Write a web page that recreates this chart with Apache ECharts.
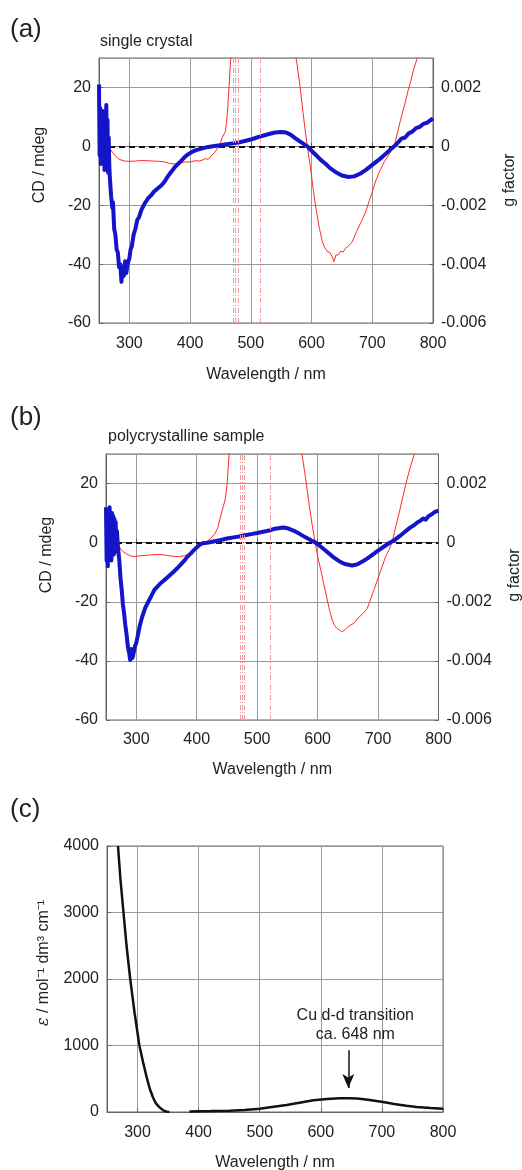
<!DOCTYPE html>
<html><head><meta charset="utf-8">
<script src="https://cdn.jsdelivr.net/npm/echarts@6/dist/echarts.min.js"></script>
<style>html,body{margin:0;padding:0;background:#fff}#c{width:522px;height:1170px}</style>
</head><body><div id="c"></div>
<script>
// ---------- data ----------
const xTickValues = [300, 400, 500, 600, 700, 800];

// (a) single crystal: CD / mdeg
const cdSingle = [[250,21],[251,-3],[252,13],[253,-6],[254,9],[255,-1],[256,12],[257,-4],[258,10],[259,-8],[260,11],[261,1],[262,14],[263,-3],[264,9],[265,-9],[266,3],[267,-7],[268,-11],[270,-17],[272,-21],[273,-19],[275,-28],[277,-30],[279,-35],[281,-36],[283,-41],[285,-40],[287,-46],[289,-41],[291,-44],[293,-39],[295,-43],[297,-40],[300,-38],[302,-35],[304,-34],[307,-30],[310,-28],[313,-25],[316,-24],[320,-21.5],[325,-19.5],[331,-17.6],[336,-16.6],[340,-15.5],[346,-14.4],[353,-13.2],[358,-12],[364,-10],[370,-8.4],[375,-7],[380,-6],[384,-5.2],[390,-3.9],[396,-2.8],[403,-1.9],[410,-1.3],[420,-0.7],[430,-0.2],[440,0.1],[450,0.4],[460,0.7],[470,1],[480,1.3],[490,1.8],[500,2.3],[510,3],[520,3.6],[530,4.2],[540,4.7],[550,4.9],[558,4.7],[566,3.9],[573,2.8],[580,1.8],[587,0.8],[593,0],[600,-1.5],[608,-3.1],[615,-4.6],[623,-5.9],[630,-7.3],[640,-8.8],[650,-9.9],[661,-10.4],[670,-10.2],[680,-9.3],[689,-8.1],[700,-6.3],[710,-4.7],[717,-3.5],[725,-2],[736,0],[742,1.2],[748,2.6],[754,3],[760,4.4],[766,5],[772,6.2],[778,6.6],[784,7.6],[790,8],[796,8.9],[800,9.5]];
// (a) single crystal: g factor
const gSingle = [[250,1.3e-4],[254,1.6e-4],[258,0.6e-4],[262,0.9e-4],[265,0],[268,-0.8e-4],[272,-2e-4],[276,-3e-4],[281,-4.1e-4],[286,-4.6e-4],[292,-5e-4],[300,-5.1e-4],[310,-5e-4],[320,-4.8e-4],[330,-4.9e-4],[340,-5e-4],[350,-5.1e-4],[358,-5.3e-4],[366,-5.8e-4],[375,-6e-4],[384,-5.6e-4],[392,-5.3e-4],[400,-5.3e-4],[408,-4.9e-4],[415,-5e-4],[420,-4.7e-4],[425,-4.2e-4],[430,-4.4e-4],[436,-3e-4],[440,-2.2e-4],[444,-1e-4],[447,0],[450,1.2e-4],[453,3e-4],[456,4.2e-4],[458,5e-4],[460,8e-4],[462,13e-4],[464,20e-4],[466,27e-4],[468,33e-4],[469,null],[572,33e-4],[576,28e-4],[580,22e-4],[584,15e-4],[588,8e-4],[593,0],[598,-7e-4],[603,-15e-4],[608,-22e-4],[613,-28e-4],[618,-32.5e-4],[622,-34.5e-4],[626,-35.8e-4],[630,-36e-4],[634,-37.5e-4],[637,-39.2e-4],[640,-37e-4],[644,-36.8e-4],[648,-35.6e-4],[652,-35.9e-4],[656,-34.6e-4],[661,-33.8e-4],[667,-32.4e-4],[674,-29e-4],[682,-25.5e-4],[689,-22.3e-4],[695,-18.5e-4],[700,-15.5e-4],[705,-12.1e-4],[712,-8.5e-4],[720,-5.2e-4],[727,-3e-4],[732,-1e-4],[736,0],[742,5e-4],[746,8.5e-4],[750,11.6e-4],[755,15.5e-4],[759,19e-4],[763,21.8e-4],[768,26e-4],[774,30e-4],[778,34e-4]];
const gSpikesSingle = [471, 474, 479, 515];

// (b) polycrystalline sample: CD / mdeg
const cdPoly = [[250,12],[251,-6],[252,10],[253,-8],[254,11],[255,0],[256,12],[257,-3],[258,9],[259,-6],[260,10],[261,2],[262,9],[263,-4],[264,8],[265,-2],[266,7],[267,-3],[268,4],[270,-2],[272,-6],[274,-12],[276,-16],[278,-21],[280,-24],[282,-28],[284,-31],[286,-35],[288,-37],[290,-39.7],[292,-36],[294,-39],[296,-37],[298,-35],[300,-34],[303,-31],[306,-28],[310,-25],[315,-22],[320,-20],[325,-18],[330,-16],[339,-14],[350,-12],[361,-10],[370,-8.2],[380,-6],[384,-4.9],[390,-3.7],[395,-2.6],[400,-1.6],[405,-0.7],[410,-0.2],[417,0],[430,0.5],[440,0.9],[450,1.4],[461,1.8],[470,2.1],[480,2.5],[490,2.9],[500,3.3],[510,3.7],[520,4.1],[527,4.6],[535,4.9],[543,5.1],[550,4.9],[560,4.1],[571,2.9],[580,1.8],[590,0.7],[596,0.1],[605,-1.3],[615,-3],[626,-4.9],[635,-6.2],[645,-7.2],[657,-7.7],[665,-7.4],[675,-6.3],[682,-5.4],[690,-4.2],[700,-2.7],[710,-1.3],[718,-0.2],[726,0.7],[735,2.1],[745,3.8],[753,5.1],[760,6],[766,7],[770,7.4],[775,8.2],[779,7.8],[783,8.9],[790,9.8],[795,10.5],[800,10.8]];
// (b) polycrystalline sample: g factor
const gPoly = [[250,1.3e-4],[255,1e-4],[260,1.2e-4],[265,0.5e-4],[268,0],[272,-1.5e-4],[278,-3e-4],[284,-3.8e-4],[290,-4.4e-4],[295,-4.7e-4],[305,-4.5e-4],[315,-4.3e-4],[325,-4.1e-4],[339,-4e-4],[350,-4.3e-4],[360,-4.6e-4],[372,-4.7e-4],[380,-4.4e-4],[388,-3.7e-4],[395,-2.7e-4],[403,-1.5e-4],[411,-0.4e-4],[418,0.6e-4],[424,1.6e-4],[430,3e-4],[435,5e-4],[439,8.5e-4],[443,11.5e-4],[447,14.5e-4],[450,19e-4],[452,25e-4],[454,31e-4],[455,null],[572,33e-4],[580,22e-4],[586,13e-4],[591,6e-4],[596,0],[600,-4.5e-4],[605,-9e-4],[610,-13.8e-4],[615,-18.5e-4],[620,-23e-4],[624,-26e-4],[628,-28e-4],[632,-29e-4],[636,-29.5e-4],[640,-30.2e-4],[645,-29.5e-4],[650,-28.5e-4],[655,-27.8e-4],[660,-27.3e-4],[667,-25.5e-4],[675,-24e-4],[682,-22.3e-4],[688,-19e-4],[694,-15.5e-4],[700,-12e-4],[706,-8.5e-4],[712,-5e-4],[718,-2.5e-4],[723,0],[730,6e-4],[736,11e-4],[742,16.4e-4],[748,21.5e-4],[754,26e-4],[760,30e-4],[764,33e-4]];
const gSpikesPoly = [472, 475, 479, 521];

// (c) absorption: epsilon / mol-1 dm3 cm-1
const epsilon = [[268,4000],[272,3500],[277,3000],[282,2500],[288,2000],[295,1500],[303,1000],[309,750],[315,520],[320,350],[325,225],[330,130],[336,70],[342,25],[348,5],[352,0],[368,null],[385,8],[400,12],[420,14],[450,20],[475,30],[500,50],[520,75],[544,105],[565,140],[588,176],[610,196],[630,205],[645,207],[660,202],[680,182],[702,150],[720,120],[740,95],[757,75],[780,60],[800,50]];
const ddArrow = {x: 645, from: 930, to: 360, text: 'Cu d-d transition\nca. 648 nm'};

// ---------- chart ----------
const FONT = '"Liberation Sans", Arial, sans-serif';
const TXT = '#222';
const GRIDC = '#9a9a9a';
const BORDER = '#666';
const RED = '#ff2a2a';
const SPIKE = '#f59a9a';
const BLUE = '#1414c8';
const chart = echarts.init(document.getElementById('c'), null, {renderer: 'canvas'});

function xAxisDef(gi, gap, margin) {
  return {
    type: 'value', gridIndex: gi, min: 250, max: 800,
    name: 'Wavelength / nm', nameLocation: 'middle', nameGap: gap,
    nameTextStyle: {fontSize: 16, color: TXT, fontFamily: FONT},
    axisLine: {show: true, lineStyle: {color: BORDER}},
    axisTick: {show: true, inside: true, length: 4, customValues: xTickValues, lineStyle: {color: BORDER}},
    axisLabel: {customValues: xTickValues, fontSize: 16, color: TXT, fontFamily: FONT, margin},
    splitLine: {show: true, lineStyle: {color: GRIDC, width: 1}}
  };
}
function yLeft(gi, min, max, interval, showMax) {
  return {
    type: 'value', gridIndex: gi, min, max, interval, position: 'left',
    axisLine: {show: true, lineStyle: {color: BORDER}},
    axisTick: {show: true, inside: true, length: 4, lineStyle: {color: BORDER}},
    axisLabel: {fontSize: 16, color: TXT, fontFamily: FONT, margin: 8, showMaxLabel: showMax,
      formatter: v => String(v)},
    splitLine: {show: true, lineStyle: {color: GRIDC, width: 1}}
  };
}
function yRight(gi) {
  return {
    type: 'value', gridIndex: gi, min: -0.006, max: 0.003, interval: 0.002, position: 'right',
    axisLine: {show: true, lineStyle: {color: BORDER}},
    axisTick: {show: true, inside: true, length: 4, lineStyle: {color: BORDER}},
    axisLabel: {fontSize: 16, color: TXT, fontFamily: FONT, margin: 8, showMaxLabel: false,
      formatter: v => Math.abs(v) < 1e-9 ? '0' : v.toFixed(3)},
    splitLine: {show: false}
  };
}
function redSeries(xi, yi, data, spikes) {
  return {
    type: 'line', xAxisIndex: xi, yAxisIndex: yi, data, showSymbol: false, symbol: 'none',
    clip: true, connectNulls: false, z: 2,
    itemStyle: {color: RED},
    lineStyle: {color: RED, width: 1},
    markLine: {
      silent: true, symbol: 'none', animation: false, label: {show: false},
      itemStyle: {color: SPIKE},
      lineStyle: {color: SPIKE, width: 1, type: [5, 2, 1, 2], opacity: 1},
      emphasis: {disabled: true},
      data: spikes.map(s => ({xAxis: s}))
    }
  };
}
function blueSeries(xi, yi, data) {
  return {
    type: 'line', xAxisIndex: xi, yAxisIndex: yi, data, showSymbol: false, symbol: 'none',
    clip: true, z: 4,
    itemStyle: {color: BLUE},
    lineStyle: {color: BLUE, width: 4, join: 'round'},
    markLine: {
      silent: true, symbol: 'none', animation: false, label: {show: false}, z: 3,
      itemStyle: {color: '#111'},
      lineStyle: {color: '#111', width: 2, type: [6, 4]},
      emphasis: {disabled: true},
      data: [{yAxis: 0}]
    }
  };
}
function txt(x, y, text, size) {
  return {type: 'text', x, y, style: {text, fontSize: size, fontFamily: FONT, fill: TXT,
    align: 'left', verticalAlign: 'middle'}};
}
function vtxt(x, y, text, size, rich) {
  return {type: 'text', x, y, rotation: Math.PI / 2, style: {text, fontSize: size, fontFamily: FONT, fill: TXT,
    align: 'center', verticalAlign: 'middle', rich: rich || {}}};
}

const option = {
  backgroundColor: '#fff',
  animation: false,
  textStyle: {fontFamily: FONT},
  grid: [
    {left: 99, right: 89, top: 58, height: 265, show: true, borderColor: BORDER, borderWidth: 1, outerBoundsMode: 'none', containLabel: false},
    {left: 106, right: 83.5, top: 454, height: 266, show: true, borderColor: BORDER, borderWidth: 1, outerBoundsMode: 'none', containLabel: false},
    {left: 107, right: 79, top: 846, height: 266, show: true, borderColor: BORDER, borderWidth: 1, outerBoundsMode: 'none', containLabel: false}
  ],
  xAxis: [xAxisDef(0, 44, 13), xAxisDef(1, 42, 12), xAxisDef(2, 43, 13)],
  yAxis: [
    yLeft(0, -60, 30, 20, false), yRight(0),
    yLeft(1, -60, 30, 20, false), yRight(1),
    yLeft(2, 0, 4000, 1000, true)
  ],
  series: [
    redSeries(0, 1, gSingle, gSpikesSingle),
    blueSeries(0, 0, cdSingle),
    redSeries(1, 3, gPoly, gSpikesPoly),
    blueSeries(1, 2, cdPoly),
    {
      type: 'line', xAxisIndex: 2, yAxisIndex: 4, data: epsilon, showSymbol: false, symbol: 'none',
      clip: true, connectNulls: false, z: 3,
      itemStyle: {color: '#111'},
      lineStyle: {color: '#111', width: 2.5},
      markLine: {
        silent: true, animation: false, symbol: ['none', 'arrow'], symbolSize: [9, 14],
        itemStyle: {color: '#111'},
        lineStyle: {color: '#111', width: 1.5, type: 'solid'},
        emphasis: {disabled: true},
        label: {show: true, position: 'start', formatter: ddArrow.text, fontSize: 16, color: TXT,
          fontFamily: FONT, lineHeight: 19, distance: 6, offset: [7, 0], align: 'center'},
        data: [[{coord: [ddArrow.x, ddArrow.from]}, {coord: [ddArrow.x, ddArrow.to]}]]
      }
    }
  ],
  graphic: [
    txt(10, 30, '(a)', 26),
    txt(100, 42, 'single crystal', 16),
    vtxt(39.5, 165, 'CD / mdeg', 16),
    vtxt(510, 180, 'g factor', 16),
    txt(10, 418, '(b)', 26),
    txt(108, 437, 'polycrystalline sample', 16),
    vtxt(46.5, 555, 'CD / mdeg', 16),
    vtxt(515, 575, 'g factor', 16),
    txt(10, 810, '(c)', 26),
    vtxt(43.5, 963, '{i|ε} / mol⁻¹ dm³ cm⁻¹', 16, {i: {fontStyle: 'italic', fontSize: 16, fontFamily: '"DejaVu Serif", serif', fill: TXT}})
  ]
};
chart.setOption(option);
</script>
</body></html>
